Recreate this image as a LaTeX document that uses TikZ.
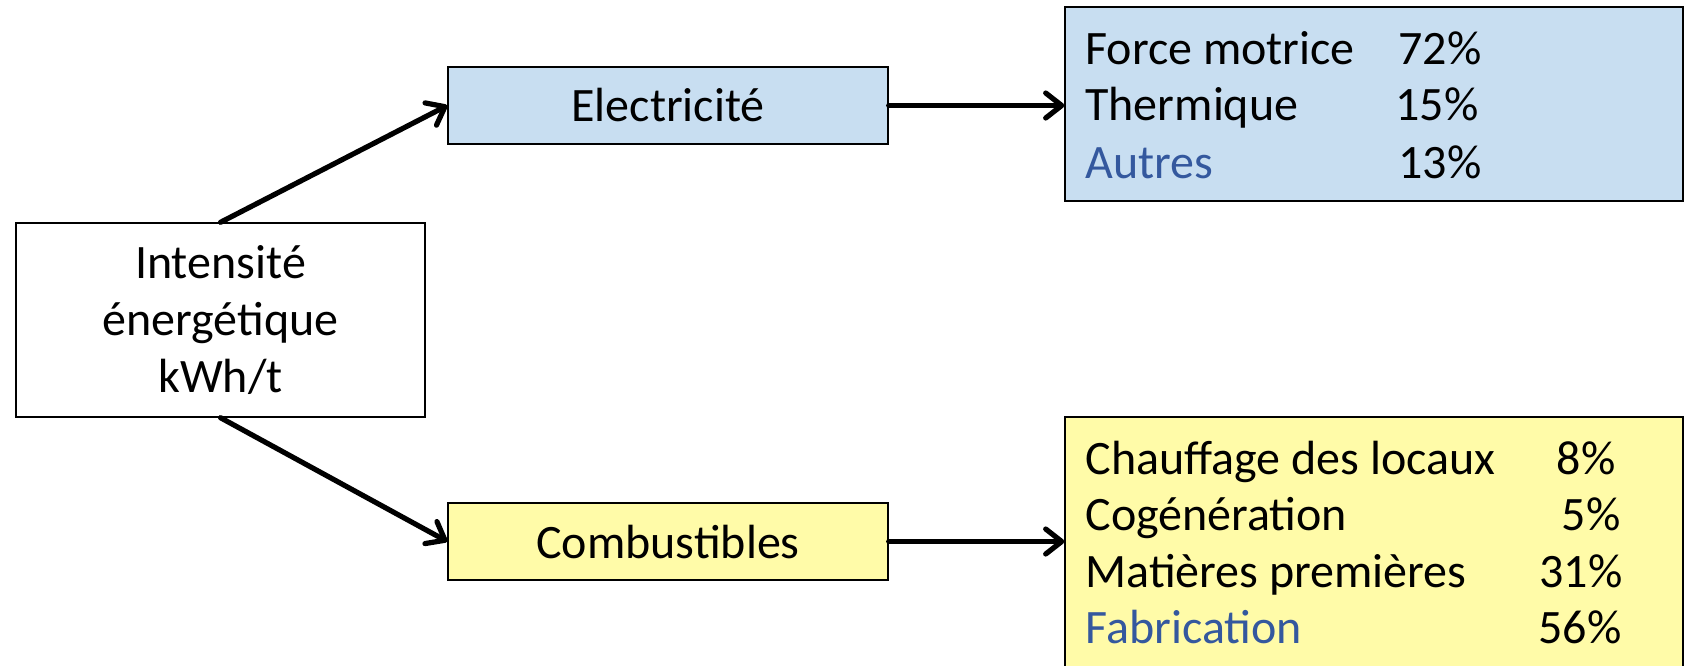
\documentclass[tikz,border=0pt]{standalone}
\usepackage{fontspec}
\setmainfont{Carlito}
\usetikzlibrary{arrows.meta}
\definecolor{elecfill}{RGB}{200,222,241}
\definecolor{combfill}{RGB}{255,251,168}
\definecolor{itemblue}{RGB}{52,88,158}
\begin{document}
\begin{tikzpicture}[x=0.5pt,y=-0.5pt,
  txt/.style={font=\fontsize{24}{28.5}\selectfont},
  box/.style={draw=black, line width=0.7pt, inner sep=0pt, align=center, txt},
  flow/.style={line width=2.6pt, line cap=round,
    -{Straight Barb[length=8pt,width=12.5pt,line cap=round,line join=round]}},
  item/.style={anchor=base west, inner sep=0pt, txt},
  pctl/.style={anchor=base west, inner sep=0pt, txt},
  pctr/.style={anchor=base east, inner sep=0pt, txt}]
\useasboundingbox (0,0) rectangle (1684,665);

% main boxes
\node[box, minimum width=204.5pt, minimum height=97pt] (src) at (220.5,320)
  {Intensité\\énergétique\\kWh/t};
\node[box, fill=elecfill, minimum width=220pt, minimum height=38.5pt] (elec) at (668,105.5) {Electricité};
\node[box, fill=combfill, minimum width=220pt, minimum height=38.5pt] (comb) at (668,541.5) {Combustibles};

% breakdown panels
\node[box, fill=elecfill, minimum width=309pt, minimum height=97pt] (elecuse) at (1374,104) {};
\node[box, fill=combfill, minimum width=309pt, minimum height=141.5pt] (combuse) at (1374,558.5) {};

% electricity uses
\node[item] (fm) at (1085,64) {Force motrice};
\node[item] (th) at (1085,120) {Thermique};
\node[item, text=itemblue] (au) at (1085,178) {Autres};
\node[pctl] (fmp) at (1398,64) {72\%};
\node[pctl] (thp) at (1395,120) {15\%};
\node[pctl] (aup) at (1398,178) {13\%};

% fuel uses
\node[item] (ch) at (1085,474) {Chauffage des locaux};
\node[item] (co) at (1085,530.5) {Cogénération};
\node[item] (ma) at (1085,587) {Matières premières};
\node[item, text=itemblue] (fa) at (1085,643.5) {Fabrication};
\node[pctr] (chp) at (1616,474) {8\%};
\node[pctr] (cop) at (1621,530.5) {5\%};
\node[pctr] (map) at (1623,587) {31\%};
\node[pctr] (fap) at (1622,643.5) {56\%};

% connectors
\draw[flow] (src.north) -- (elec.west);
\draw[flow] (src.south) -- (comb.west);
\draw[flow] (elec.east) -- (elec.east -| elecuse.west);
\draw[flow] (comb.east) -- (comb.east -| combuse.west);
\end{tikzpicture}
\end{document}
